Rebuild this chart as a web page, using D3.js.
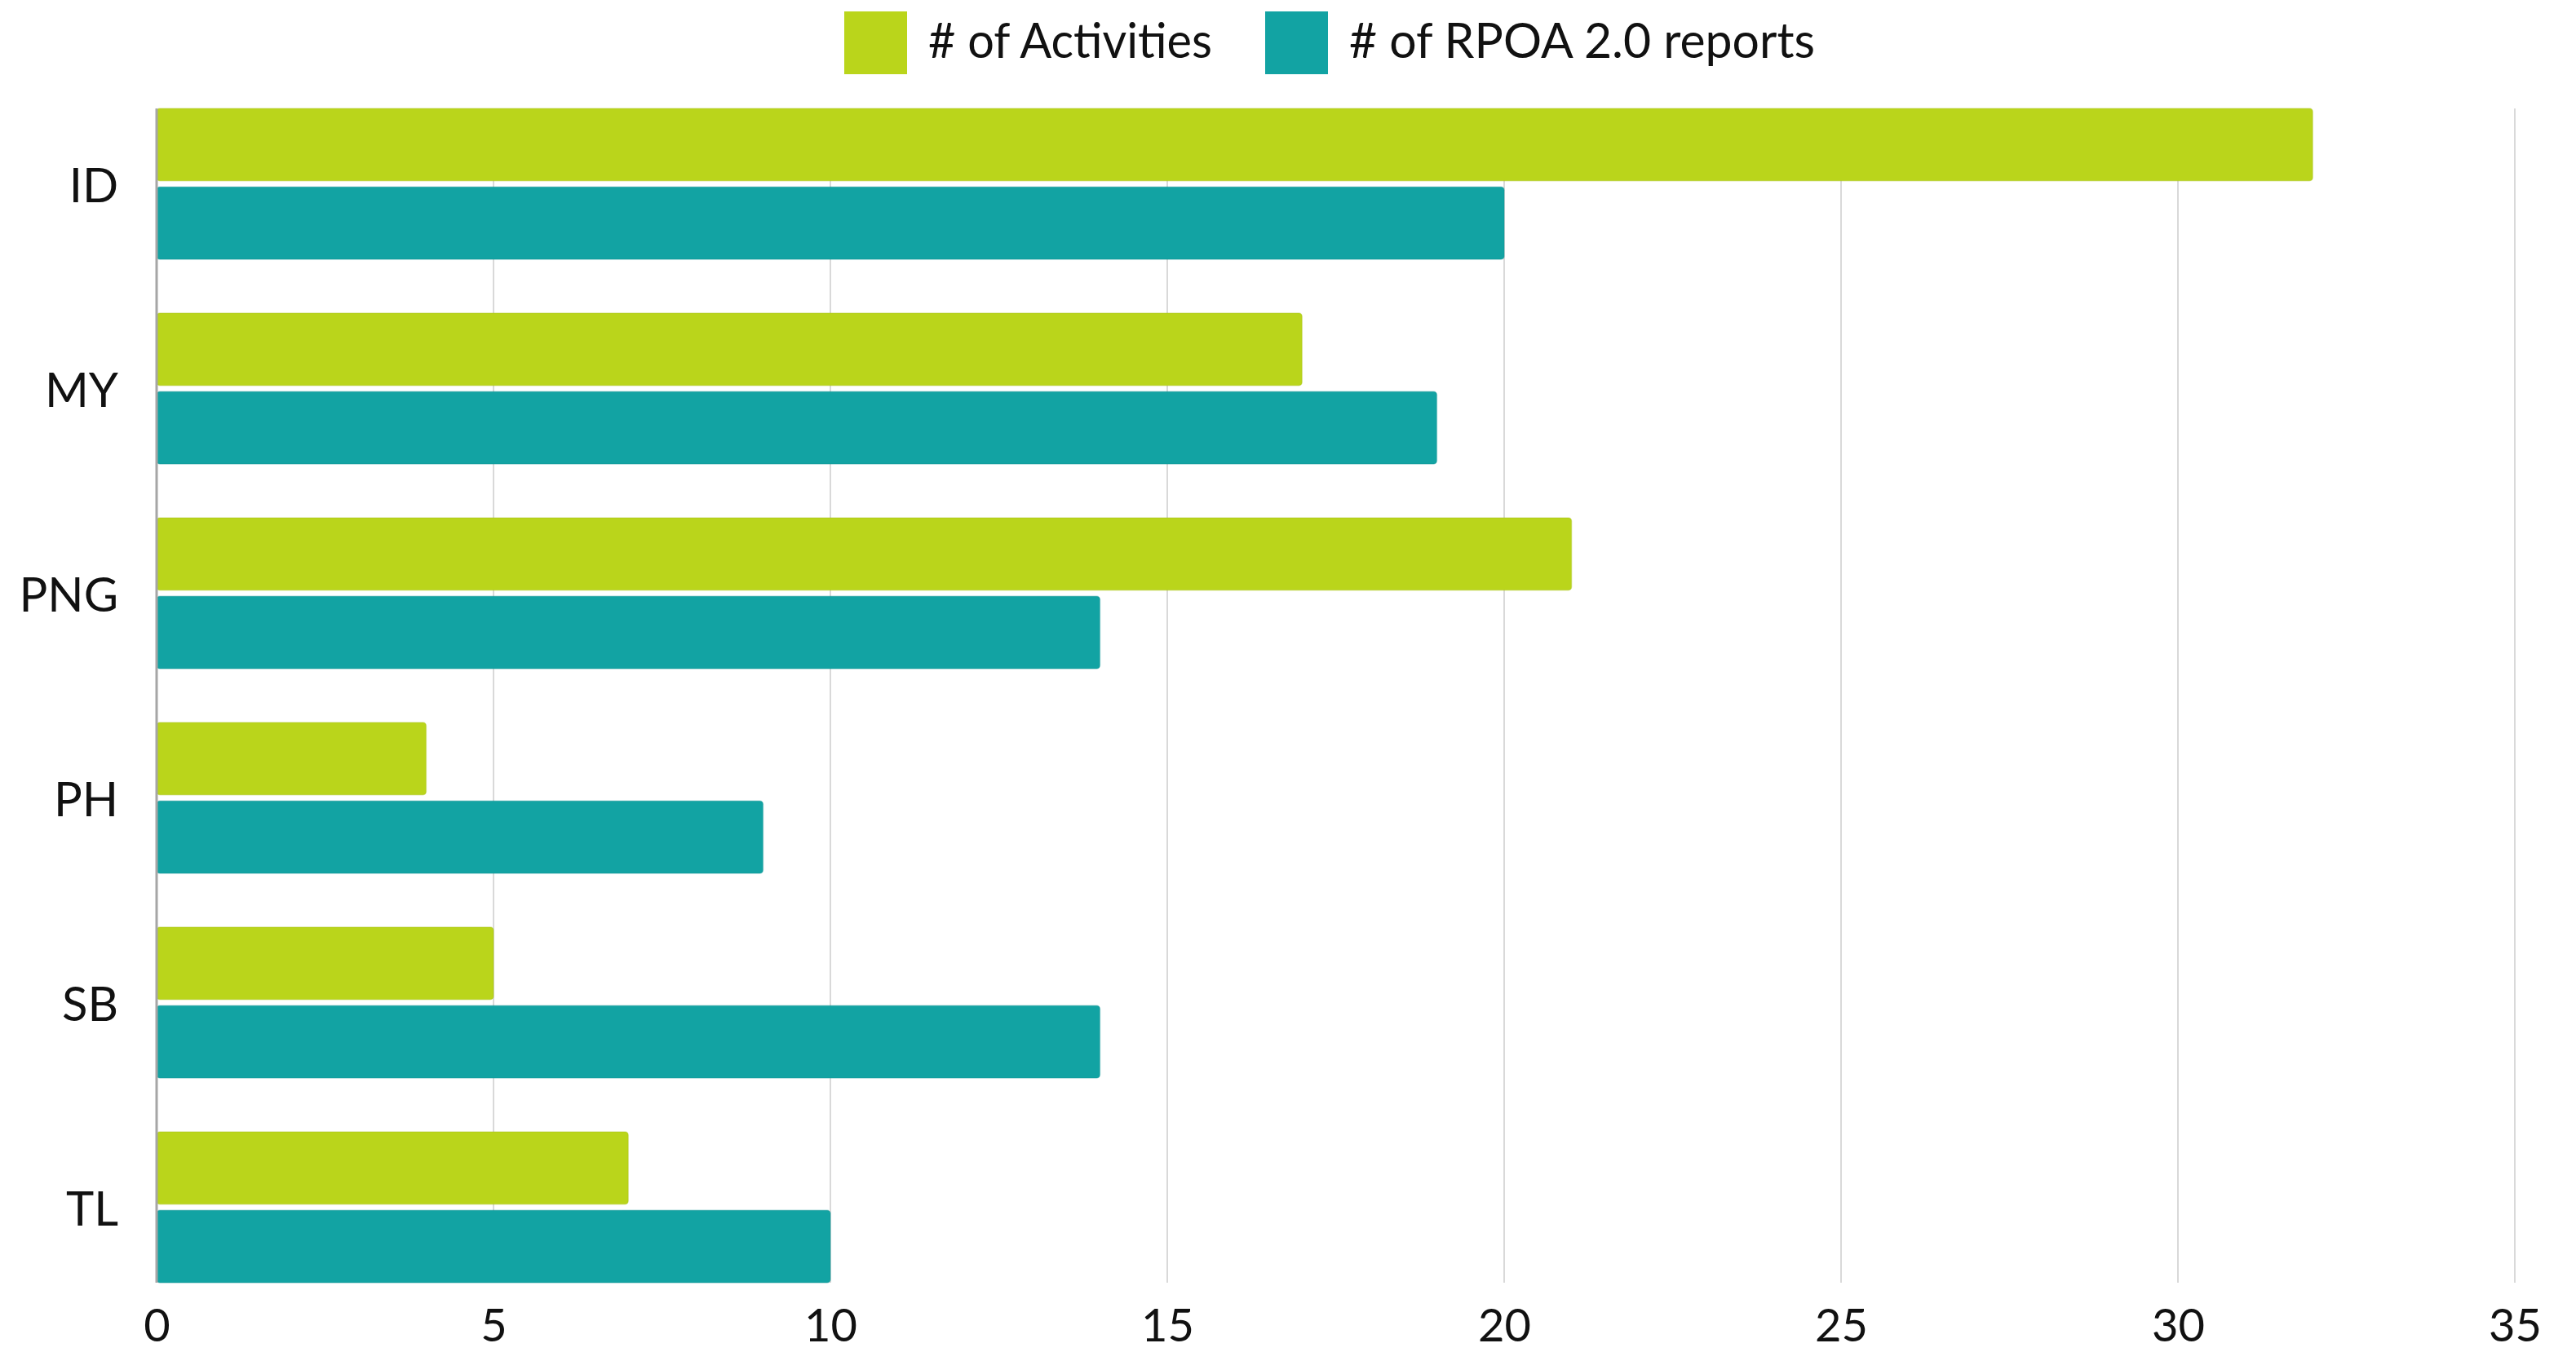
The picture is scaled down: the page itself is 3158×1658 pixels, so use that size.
<!DOCTYPE html>
<html>
<head>
<meta charset="utf-8">
<script src="https://cdn.jsdelivr.net/npm/d3@7"></script>
<style>
  body { margin: 0; background: #fff; }
  text { font-family: Lato, "Open Sans", sans-serif; fill: #111; }
</style>
</head>
<body>
<div id="chart"></div>
<script>
// data
const countries = ['ID', 'MY', 'PNG', 'PH', 'SB', 'TL'];
const activities = [32, 17, 21, 4, 5, 7];
const rpoaReports = [20, 19, 14, 9, 14, 10];
const seriesNames = ['# of Activities', '# of RPOA 2.0 reports'];
const xTicks = [0, 5, 10, 15, 20, 25, 30, 35];

const colors = ['#bad51b', '#12a3a3'];

var svgWidth = 3158;
var svgHeight = 1658;

var margin = { top: 133, right: 75, bottom: 85, left: 192 };

const width = svgWidth - margin.left - margin.right;
const height = svgHeight - margin.top - margin.bottom;

var svg = d3.select('#chart')
    .append('svg')
    .attr('width', svgWidth)
    .attr('height', svgHeight);

var chartGroup = svg.append('g')
    .attr('transform', `translate(${margin.left}, ${margin.top})`);

var xScale = d3.scaleLinear()
    .domain([0, 35])
    .range([0, width]);

var yScale = d3.scaleBand()
    .domain(countries)
    .range([0, height])
    .paddingInner(0.263)
    .paddingOuter(0);

var subScale = d3.scaleBand()
    .domain([0, 1])
    .range([0, yScale.bandwidth()])
    .paddingInner(0.08);

// gridlines
chartGroup.append('g')
    .selectAll('line')
    .data(xTicks.filter(d => d > 0))
    .enter()
    .append('line')
    .attr('x1', d => xScale(d))
    .attr('x2', d => xScale(d))
    .attr('y1', 0)
    .attr('y2', height)
    .attr('stroke', '#d9d9d9')
    .attr('stroke-width', 2);

// x tick labels
var x_axis = d3.axisBottom(xScale)
    .tickValues(xTicks)
    .tickSize(0)
    .tickPadding(32);

var xAxisG = chartGroup.append('g')
    .attr('transform', `translate(0, ${height})`)
    .call(x_axis);
xAxisG.select('.domain').remove();
xAxisG.selectAll('text')
    .attr('font-family', 'Lato, sans-serif')
    .attr('font-size', 56)
    .attr('fill', '#111');

// bars
const rows = countries.map((c, i) => ({ country: c, values: [activities[i], rpoaReports[i]] }));

var groups = chartGroup.selectAll('.group')
    .data(rows)
    .enter()
    .append('g')
    .attr('transform', d => `translate(0, ${yScale(d.country)})`);

groups.selectAll('rect')
    .data(d => d.values.map((v, k) => ({ v: v, k: k })))
    .enter()
    .append('rect')
    .attr('x', 0)
    .attr('y', d => subScale(d.k))
    .attr('width', d => xScale(d.v))
    .attr('height', subScale.bandwidth())
    .attr('rx', 4)
    .attr('fill', d => colors[d.k])
    .attr('stroke', d => d3.color(colors[d.k]).darker(0.3))
    .attr('stroke-opacity', 0.35)
    .attr('stroke-width', 1.5);

// y axis line
chartGroup.append('line')
    .attr('x1', 0).attr('x2', 0)
    .attr('y1', 0).attr('y2', height)
    .attr('stroke', '#a6a6a6')
    .attr('stroke-width', 3);

// category labels
chartGroup.selectAll('.cat')
    .data(countries)
    .enter()
    .append('text')
    .attr('x', -47)
    .attr('y', d => yScale(d) + yScale.bandwidth() / 2)
    .attr('text-anchor', 'end')
    .attr('dominant-baseline', 'central')
    .attr('font-size', 58)
    .text(d => d);

// legend
const legendX = [1035, 1551];
const legendTextW = [348, 571];
var legend = svg.append('g');
seriesNames.forEach((name, i) => {
    legend.append('rect')
        .attr('x', legendX[i])
        .attr('y', 14)
        .attr('width', 77)
        .attr('height', 77)
        .attr('fill', colors[i]);
    legend.append('text')
        .attr('x', legendX[i] + 103)
        .attr('y', 48)
        .attr('dominant-baseline', 'central')
        .attr('font-size', 60)
        .attr('textLength', legendTextW[i])
        .attr('lengthAdjust', 'spacingAndGlyphs')
        .text(name);
});
</script>
</body>
</html>
